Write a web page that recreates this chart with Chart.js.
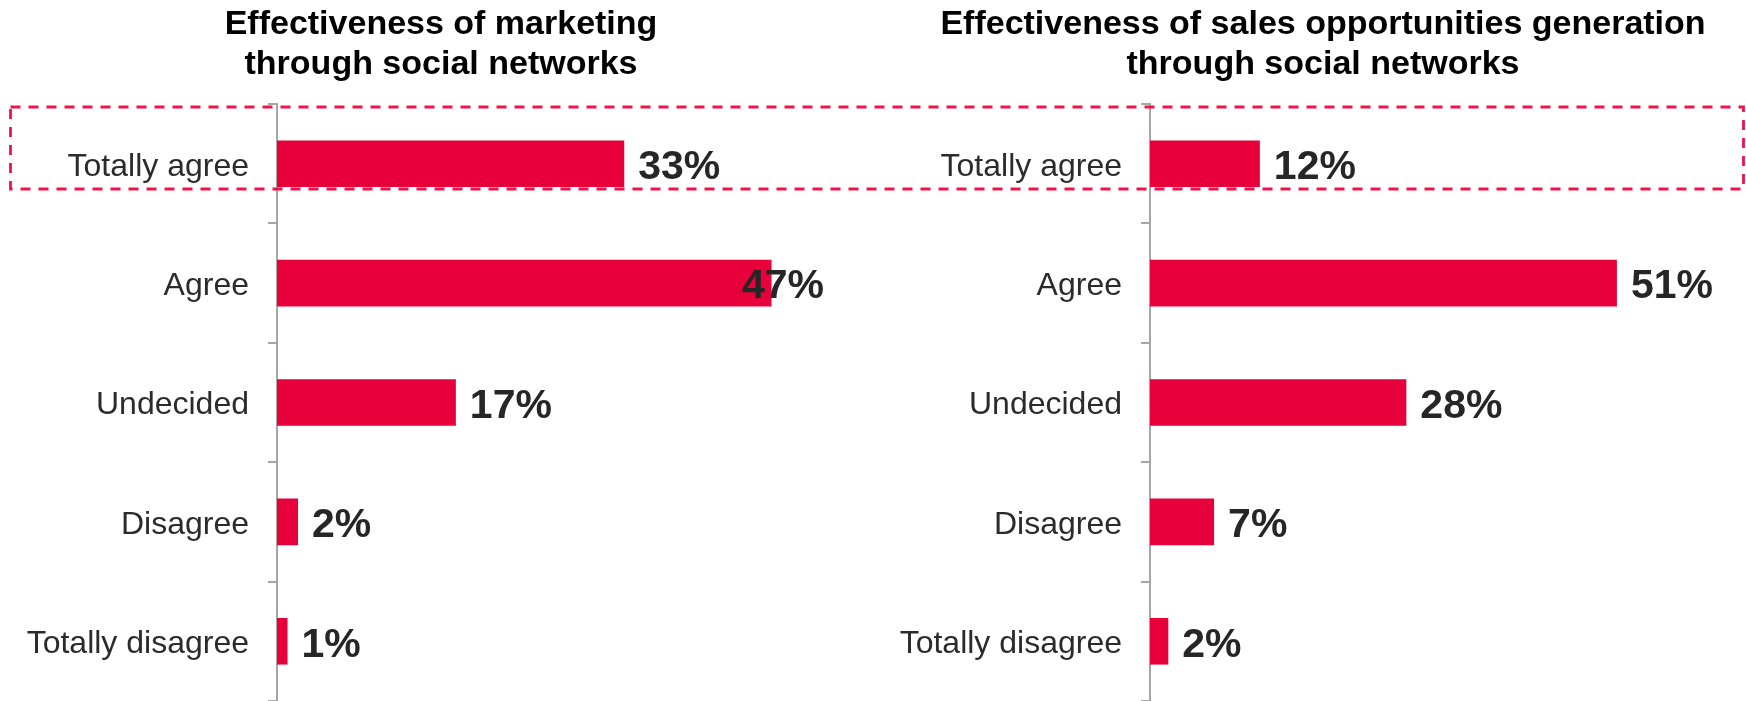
<!DOCTYPE html>
<html>
<head>
<meta charset="utf-8">
<script src="https://cdn.jsdelivr.net/npm/chart.js@4/dist/chart.umd.min.js"></script>
<style>
  html, body { margin: 0; padding: 0; background: #fff; overflow: hidden; }
  #wrap { position: relative; width: 1746px; height: 701px; }
  #left { position: absolute; left: 0; top: 0; }
  #right { position: absolute; left: 900px; top: 0; }
  #box { position: absolute; left: 0; top: 0; pointer-events: none; }
</style>
</head>
<body>
<div id="wrap">
  <canvas id="left" width="882" height="701"></canvas>
  <canvas id="right" width="846" height="701"></canvas>
  <svg id="box" width="1746" height="701">
    <rect x="10.5" y="107" width="1733" height="82" fill="none" stroke="#EE1448" stroke-width="2.8" stroke-dasharray="10 8"></rect>
  </svg>
</div>
<script>
const categories = ["Totally agree", "Agree", "Undecided", "Disagree", "Totally disagree"];
const marketingValues = [33, 47, 17, 2, 1];
const salesValues = [12, 51, 28, 7, 2];
const marketingTitle = ["Effectiveness of marketing", "through social networks"];
const salesTitle = ["Effectiveness of sales opportunities generation", "through social networks"];

const FONT = "'Liberation Sans', Arial, sans-serif";
const RED = "#E8003A";
const AXIS = "#a6a6a6";

// value labels after the bar end, pushed back if they would pass the limit
function valueLabels(rightMargin) {
  return {
    id: "valueLabels",
    afterDatasetsDraw(chart) {
      const ctx = chart.ctx;
      const limit = chart.chartArea.right - rightMargin;
      const meta = chart.getDatasetMeta(0);
      ctx.save();
      ctx.font = "bold 41px " + FONT;
      ctx.fillStyle = "#262626";
      ctx.textBaseline = "middle";
      ctx.textAlign = "left";
      meta.data.forEach((bar, i) => {
        const txt = chart.data.datasets[0].data[i] + "%";
        const w = ctx.measureText(txt).width;
        const x = Math.min(bar.x + 14, limit - w);
        ctx.fillText(txt, x, bar.y + 4);
      });
      ctx.restore();
    }
  };
}

function makeChart(id, values, title, axisWidth, xMax, labelMargin) {
  return new Chart(document.getElementById(id), {
    type: "bar",
    data: {
      labels: categories,
      datasets: [{
        data: values,
        backgroundColor: RED,
        borderWidth: 0,
        barPercentage: 0.39,
        categoryPercentage: 1
      }]
    },
    options: {
      indexAxis: "y",
      responsive: false,
      animation: false,
      layout: { padding: 0 },
      plugins: {
        legend: { display: false },
        tooltip: { enabled: false },
        title: {
          display: true,
          text: title,
          color: "#000",
          font: { family: FONT, size: 34, weight: "bold", lineHeight: 40 / 34 },
          padding: { top: 5, bottom: 19 }
        }
      },
      scales: {
        x: { display: false, min: 0, max: xMax },
        y: {
          afterFit(scale) {
            scale.width = axisWidth;
            scale.paddingTop = 0;
            scale.paddingBottom = 0;
          },
          border: { display: true, color: AXIS, width: 2 },
          grid: { drawOnChartArea: false, color: AXIS, tickLength: 9, lineWidth: 2, offset: true },
          ticks: { color: "#2b2b2b", padding: 19, labelOffset: 3, font: { family: FONT, size: 32 } }
        }
      }
    },
    plugins: [valueLabels(labelMargin)]
  });
}

makeChart("left", marketingValues, marketingTitle, 277, 57.5, 58);
makeChart("right", salesValues, salesTitle, 250, 65.1, 0);
</script>
</body>
</html>
